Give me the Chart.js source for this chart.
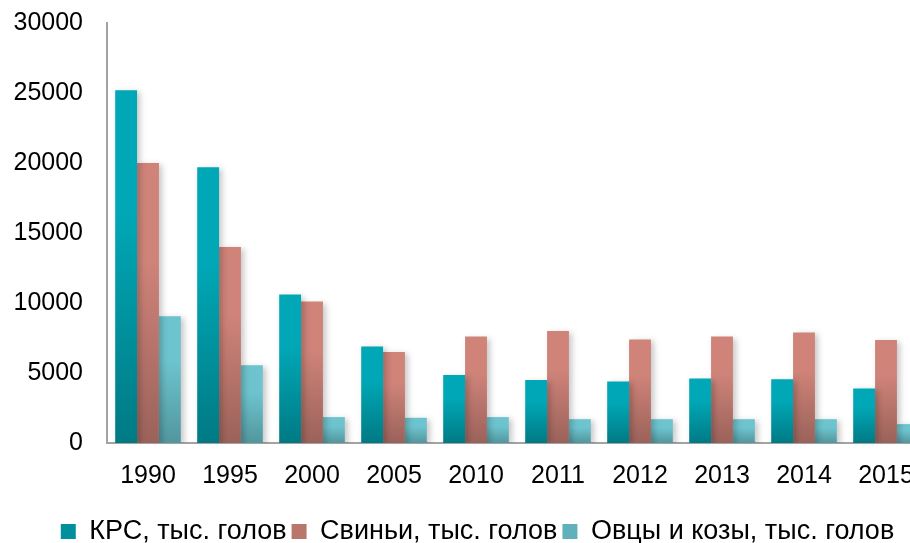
<!DOCTYPE html>
<html>
<head>
<meta charset="utf-8">
<script src="https://cdn.jsdelivr.net/npm/chart.js@4/dist/chart.umd.min.js"></script>
<style>
  html, body { margin: 0; padding: 0; background: #fff; overflow: hidden; }
  #wrap { position: absolute; left: 0; top: 0; width: 955px; height: 543px; }
</style>
</head>
<body>
<div id="wrap"><canvas id="c" width="955" height="543"></canvas></div>
<script>
const categories = ['1990', '1995', '2000', '2005', '2010', '2011', '2012', '2013', '2014', '2015'];
const seriesNames = ['КРС, тыс. голов', 'Свиньи, тыс. голов', 'Овцы и козы, тыс. голов'];
const krsValues = [25200, 19700, 10600, 6900, 4850, 4500, 4400, 4600, 4550, 3900];
const pigValues = [20000, 14000, 10100, 6500, 7600, 8000, 7400, 7600, 7900, 7350];
const sheepValues = [9050, 5550, 1850, 1800, 1850, 1700, 1700, 1700, 1700, 1350];
const yMax = 30000;
const yStep = 5000;

const FONT = '"Liberation Sans", Arial, sans-serif';

function barGradient(top, bottom) {
  return function (ctx) {
    const chart = ctx.chart;
    const area = chart.chartArea;
    if (!area || ctx.type !== 'data') return bottom;
    const y = chart.scales.y;
    const yTop = y.getPixelForValue(ctx.raw);
    const yBase = y.getPixelForValue(0);
    if (!isFinite(yTop) || !isFinite(yBase) || yBase - yTop < 1) return bottom;
    const g = chart.ctx.createLinearGradient(0, yTop, 0, yBase);
    g.addColorStop(0, top);
    g.addColorStop(0.35, top);
    g.addColorStop(1, bottom);
    return g;
  };
}

const legendColors = ['#00909d', '#b8766c', '#62b0b9'];

const shadowPlugin = {
  id: 'barShadow',
  beforeDatasetsDraw(chart) {
    const c = chart.ctx;
    c.save();
    c.shadowColor = 'rgba(0,0,0,0.22)';
    c.shadowBlur = 6;
    c.shadowOffsetX = 3;
    c.shadowOffsetY = 2;
  },
  afterDatasetsDraw(chart) {
    chart.ctx.restore();
  }
};

const legendShiftPlugin = {
  id: 'legendShift',
  afterLayout(chart) {
    const lg = chart.legend;
    if (!lg) return;
    lg.left += 8; lg.right += 8;
    lg.top += 12; lg.bottom += 12;
  }
};

new Chart(document.getElementById('c'), {
  type: 'bar',
  data: {
    labels: categories,
    datasets: [
      { label: seriesNames[0], data: krsValues, backgroundColor: barGradient('#00a7b6', '#007a84') },
      { label: seriesNames[1], data: pigValues, backgroundColor: barGradient('#cf8379', '#9a625a') },
      { label: seriesNames[2], data: sheepValues, backgroundColor: barGradient('#6dc4ce', '#52969e') }
    ]
  },
  options: {
    responsive: false,
    animation: false,
    devicePixelRatio: 1,
    layout: { padding: { left: 12, right: 28, top: 23, bottom: 0 } },
    datasets: {
      bar: { categoryPercentage: 0.8, barPercentage: 1.0, borderWidth: 0 }
    },
    plugins: {
      tooltip: { enabled: false },
      legend: {
        position: 'bottom',
        labels: {
          font: { family: FONT, size: 27 },
          color: '#000',
          boxWidth: 15,
          boxHeight: 15,
          padding: 5,
          generateLabels(chart) {
            return chart.data.datasets.map((ds, i) => ({
              text: ds.label,
              fillStyle: legendColors[i],
              strokeStyle: legendColors[i],
              lineWidth: 0,
              hidden: false,
              datasetIndex: i,
              fontColor: '#000'
            }));
          }
        }
      }
    },
    scales: {
      x: {
        grid: { display: false, drawTicks: false },
        border: { display: true, color: '#a3a3a3', width: 2 },
        ticks: { font: { family: FONT, size: 25 }, color: '#000', padding: 18, maxRotation: 0, autoSkip: false },
        afterFit(scale) {
          scale.height = 58;
          scale.paddingLeft = 0;
          scale.paddingRight = 0;
        }
      },
      y: {
        min: 0,
        max: yMax,
        grid: { display: false, drawTicks: false },
        border: { display: true, color: '#a3a3a3', width: 2 },
        ticks: {
          stepSize: yStep,
          font: { family: FONT, size: 25 },
          color: '#000',
          padding: 24,
          callback: (v) => String(v)
        },
        afterFit(scale) {
          scale.width = 95;
          scale.paddingTop = 0;
          scale.paddingBottom = 0;
        }
      }
    }
  },
  plugins: [shadowPlugin, legendShiftPlugin]
});
</script>
</body>
</html>
